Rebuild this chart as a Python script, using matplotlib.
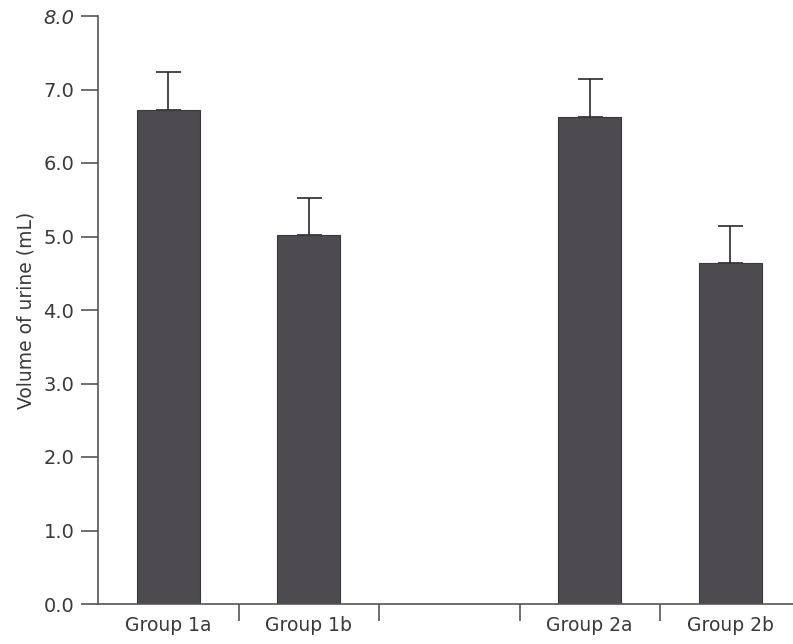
import matplotlib.pyplot as plt
import numpy as np

# group labels and positions (slot 3 is left empty between the two groups)
groups = ['Group 1a', 'Group 1b', 'Group 2a', 'Group 2b']
slots = [1, 2, 4, 5]
volume = [6.72, 5.02, 6.62, 4.64]   # mean urine volume (mL)
err = [0.52, 0.51, 0.52, 0.50]       # upper error
yticks = [0.0, 1.0, 2.0, 3.0, 4.0, 5.0, 6.0, 7.0, 8.0]

plt.rcParams['font.family'] = ['DejaVu Sans']
txt = '#3a3a3a'

fig = plt.figure(figsize=(7.93, 6.44), dpi=100)
ax = fig.add_axes([98/793, 40/644, 695/793, 588/644])

ax.bar(slots, volume, width=0.45, color='#4d4b4f', edgecolor='#3a383c', linewidth=0.8, zorder=2)
ax.errorbar(slots, volume, yerr=[np.zeros(len(err)), err], fmt='none',
            ecolor='#2a2a2a', elinewidth=1.2, capsize=9, capthick=1.2, zorder=1)

ax.set_xlim(0.5, 0.5 + 695/140.5)
ax.set_ylim(0, 8)

ax.spines['top'].set_visible(False)
ax.spines['right'].set_visible(False)
for s in ['left', 'bottom']:
    ax.spines[s].set_color('#555555')
    ax.spines[s].set_linewidth(1.2)

ax.set_yticks(yticks)
ax.set_yticklabels(['%.1f' % v for v in yticks], fontsize=14, color=txt)
ax.get_yticklabels()[-1].set_style('italic')
ax.tick_params(axis='y', direction='out', length=12, width=1.2, color='#555555', pad=5)

# ticks sit between the bars, labels go under the bars
ax.set_xticks([1.5, 2.5, 3.5, 4.5])
ax.set_xticklabels([])
ax.tick_params(axis='x', direction='out', length=12, width=1.2, color='#555555')
for x, g in zip(slots, groups):
    ax.text(x, -0.17, g, ha='center', va='top', fontsize=13.5, color=txt)

ax.set_ylabel('Volume of urine (mL)', fontsize=13.5, color=txt, labelpad=6)

fig.savefig('out.png', dpi=100)
